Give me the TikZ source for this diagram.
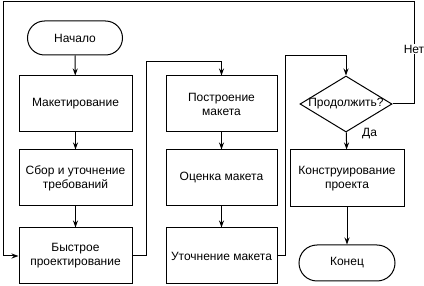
\documentclass[tikz,border=0pt]{standalone}
\usepackage{fontspec}
\setmainfont{Liberation Sans}
\usetikzlibrary{shapes.geometric,arrows.meta}
\begin{document}
\begin{tikzpicture}[x=1pt,y=-1pt,
  every node/.style={font=\fontsize{12}{14}\selectfont},
  box/.style={draw, line width=1pt, minimum width=113pt, minimum height=56pt, align=center, inner sep=2pt},
  term/.style={draw, line width=1pt, rounded corners=17pt, minimum width=95pt, minimum height=34pt},
  dia/.style={draw, diamond, line width=1pt, minimum width=92pt, minimum height=56pt, inner sep=0pt},
  conn/.style={line width=1pt},
  arr/.style={line width=1pt, -{Stealth[length=7pt,width=5pt]}},
  lbl/.style={fill=white, inner sep=1pt}]
\useasboundingbox (0,0) rectangle (424,286);
% column 1
\node[term] (start) at (75,38) {Начало};
\node[box] (mak) at (75.5,104) {Макетирование};
\node[box] (sbor) at (75.5,178) {Сбор и уточнение\\требований};
\node[box] (fast) at (75.5,256) {Быстрое\\проектирование};
% column 2
\node[box, minimum width=111pt] (post) at (221.5,104) {Построение\\макета};
\node[box, minimum width=111pt] (ocen) at (221.5,178) {Оценка макета};
\node[box, minimum width=111pt] (utoch) at (221.5,256) {Уточнение макета};
% column 3
\node[dia, label=center:{Продолжить?}] (dec) at (346,104) {};
\node[box, minimum width=114pt, minimum height=57pt] (konst) at (347,178.5) {Конструирование\\проекта};
\node[term, minimum width=96pt, minimum height=36pt, rounded corners=18pt] (fin) at (347,263) {Конец};
% coordinates
\coordinate (c1) at (146,256);
\coordinate (c2) at (146,62);
\coordinate (c3) at (221.5,62);
\coordinate (d1) at (285,256);
\coordinate (d2) at (285,56);
\coordinate (d3) at (346,56);
\coordinate (e1) at (414,104);
\coordinate (e2) at (414,2);
\coordinate (e3) at (3,2);
\coordinate (e4) at (3,256);
% arrows
\draw[arr] (start) -- (mak);
\draw[arr] (mak) -- (sbor);
\draw[arr] (sbor) -- (fast);
\draw[arr] (post) -- (ocen);
\draw[arr] (ocen) -- (utoch);
\draw[arr] (dec) -- node[right, pos=0.1, xshift=12pt] {Да} (konst);
\draw[arr] (konst) -- (fin);
\draw[arr] (fast.east) -- (c1) -- (c2) -- (c3) -- (post.north);
\draw[arr] (utoch.east) -- (d1) -- (d2) -- (d3) -- (dec.north);
\draw[arr] (dec.east) -- (e1) -- (e2) -- (e3) -- (e4) -- (fast.west);
\node[lbl] (net) at (414,49) {Нет};
\end{tikzpicture}
\end{document}
